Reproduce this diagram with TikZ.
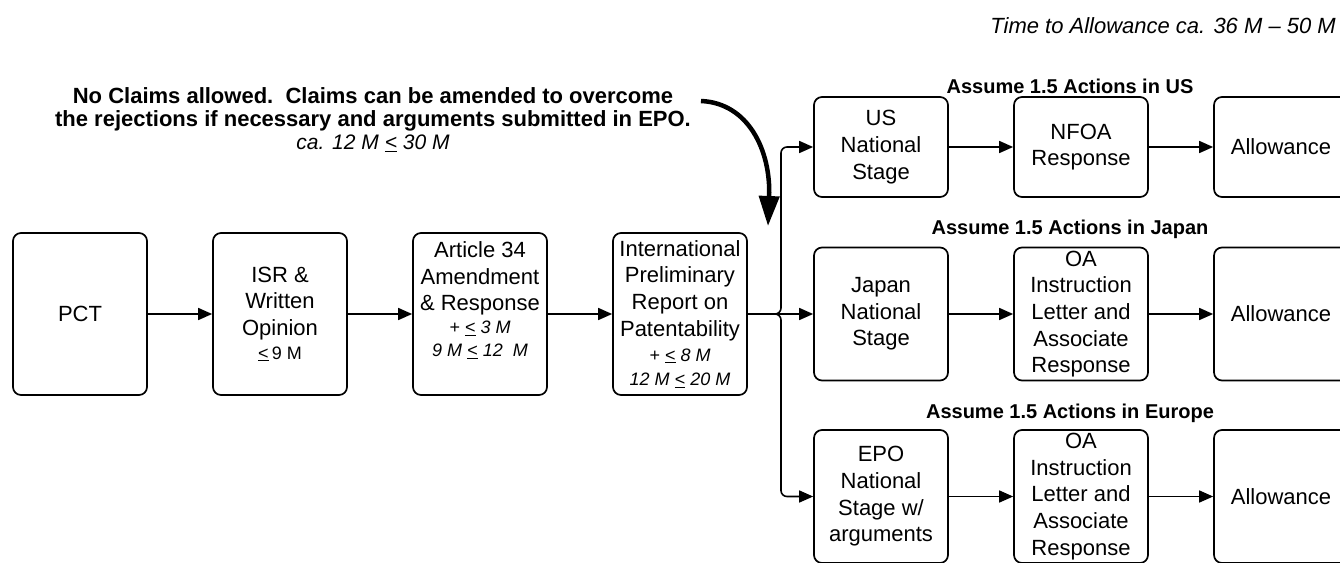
\documentclass[tikz,border=0pt]{standalone}
\usepackage{fontspec}
\setmainfont{Liberation Sans}
\usetikzlibrary{arrows.meta}
\newcommand\smtxt{\fontsize{18}{22}\selectfont}
\newcommand\lte{\underline{<}}
\begin{document}
\begin{tikzpicture}[x=1pt,y=-1pt,
  box/.style={draw, line width=1.7pt, rounded corners=8pt, minimum width=134pt,
    inner sep=0pt, align=center, font=\fontsize{22}{26.7}\selectfont},
  txt/.style={inner sep=0pt, align=center, font=\fontsize{22}{26.7}\selectfont},
  conn/.style={line width=1.6pt, -{Triangle[length=14pt,width=12pt]}},
  title/.style={inner sep=0pt, font=\bfseries\fontsize{20}{24}\selectfont}]
\useasboundingbox (0,0) rectangle (1340,562);
\clip (0,0) rectangle (1340,562);

% left chain
\node[box, minimum height=162pt] (pct) at (80,314) {PCT};
\node[box, minimum height=162pt] (isr) at (280,314)
  {ISR \&\\Written\\Opinion\\[-3pt]{\smtxt\lte\,9 M}};
\node[box, minimum height=162pt] (art) at (480,314) {};
\node[txt] (artt) at (480,300)
  {Article 34\\Amendment\\\& Response\\[-4pt]{\smtxt\itshape + \lte\ 3 M}\\[-4pt]{\smtxt\itshape 9 M \lte\ 12\ \ M}};
\node[box, minimum height=162pt] (iprp) at (680,314)
  {International\\Preliminary\\Report on\\Patentability\\[-2pt]{\smtxt\itshape + \lte\ 8 M}\\[-2pt]{\smtxt\itshape 12 M \lte\ 20 M}};

% US row
\node[box, minimum height=100pt] (us) at (881,147) {US\\National\\Stage};
\node[box, minimum height=100pt] (nfoa) at (1081,147) {NFOA\\Response};
\node[box, minimum height=100pt] (usal) at (1281,147) {Allowance};

% Japan row
\node[box, minimum height=133pt] (jp) at (881,314) {Japan\\National\\Stage};
\node[box, minimum height=133pt] (jpoa) at (1081,314) {OA\\Instruction\\Letter and\\Associate\\Response};
\node[box, minimum height=133pt] (jpal) at (1281,314) {Allowance};

% Europe row
\node[box, minimum height=133pt] (eu) at (881,496.5) {EPO\\National\\Stage w/\\arguments};
\node[box, minimum height=133pt] (euoa) at (1081,496.5) {OA\\Instruction\\Letter and\\Associate\\Response};
\node[box, minimum height=133pt] (eual) at (1281,496.5) {Allowance};

% titles
\node[title] (ustitle) at (1070,86) {Assume 1.5 Actions in US};
\node[title] (jptitle) at (1070,229) {Assume 1.5 Actions in Japan};
\node[title] (eutitle) at (1070,413) {Assume 1.5 Actions in Europe};

\node[anchor=east, inner sep=0pt, font=\itshape\fontsize{22}{26}\selectfont] (time) at (1336,26)
  {Time to Allowance ca. 36 M – 50 M};

\node[inner sep=0pt, align=center, font=\bfseries\fontsize{22}{23}\selectfont] (note) at (373,120)
  {No Claims allowed.\ \ Claims can be amended to overcome\\the rejections if necessary and arguments submitted in EPO.\\{\mdseries\itshape\fontsize{21}{23}\selectfont ca. 12 M \lte\ 30 M}};

% connectors
\draw[conn] (pct) -- (isr);
\draw[conn] (isr) -- (art);
\draw[conn] (art) -- (iprp);
\coordinate (split) at (781,314);
\draw[conn, rounded corners=6pt] (iprp.east) -- (split) |- (us.west);
\draw[conn] (iprp.east) -- (jp.west);
\draw[conn, rounded corners=6pt] (iprp.east) -- (split) |- (eu.west);
\draw[conn] (us) -- (nfoa);
\draw[conn] (nfoa) -- (usal);
\draw[conn] (jp) -- (jpoa);
\draw[conn] (jpoa) -- (jpal);
\draw[conn] (eu) -- (euoa);
\draw[conn] (euoa) -- (eual);

% big curved arrow
\coordinate (cstart) at (701,101);
\coordinate (ctip) at (768,226);
\draw[line width=4.5pt, -{Triangle[length=30pt,width=20pt]}]
  (cstart) .. controls (748,103) and (771,150) .. (ctip);
\end{tikzpicture}
\end{document}
